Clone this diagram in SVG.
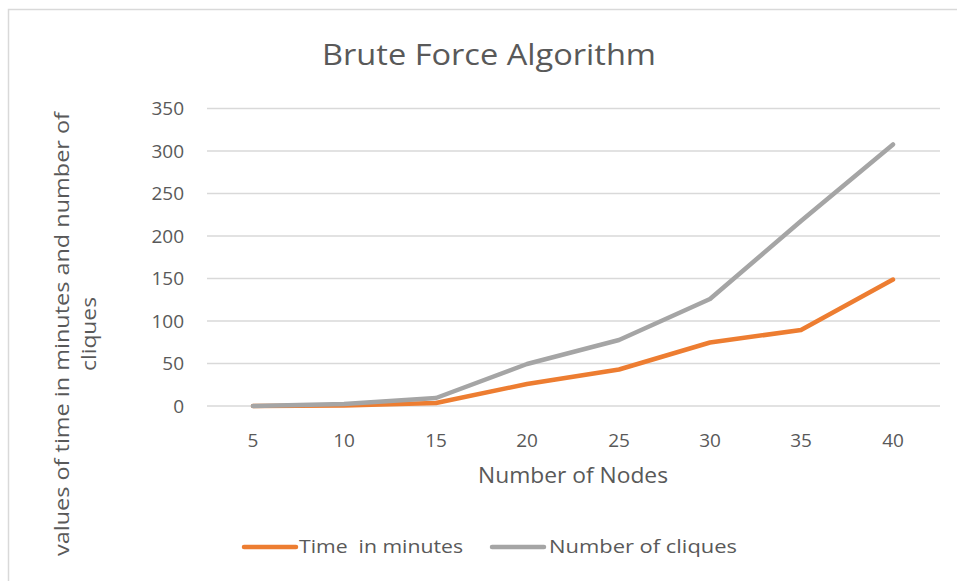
<svg xmlns="http://www.w3.org/2000/svg" width="957" height="581" viewBox="0 0 957 581">
<style>
text{font-family:"Open Sans","Noto Sans","Liberation Sans",sans-serif;fill:#595959}
.tick{font-size:19px}
.grid{stroke:#d9d9d9;stroke-width:1.5}
.s{fill:none;stroke-width:4.5;stroke-linecap:round;stroke-linejoin:round}
</style>
<rect width="957" height="581" fill="#fff"/>
<g id="frame"><path d="M8.5,581 V9.5 H957" fill="none" stroke="#d9d9d9" stroke-width="1.5"/></g>
<g id="title"><text x="489" y="65" font-size="30" text-anchor="middle" textLength="334" lengthAdjust="spacingAndGlyphs">Brute Force Algorithm</text></g>
<g id="grid">
<line class="grid" x1="207" y1="108.5" x2="940" y2="108.5"/>
<line class="grid" x1="207" y1="151" x2="940" y2="151"/>
<line class="grid" x1="207" y1="193.5" x2="940" y2="193.5"/>
<line class="grid" x1="207" y1="236" x2="940" y2="236"/>
<line class="grid" x1="207" y1="278.5" x2="940" y2="278.5"/>
<line class="grid" x1="207" y1="321" x2="940" y2="321"/>
<line class="grid" x1="207" y1="363.5" x2="940" y2="363.5"/>
<line class="grid" x1="207" y1="406" x2="940" y2="406"/>
</g>
<g id="y-ticks" class="tick" text-anchor="end">
<text x="184" y="115">350</text>
<text x="184" y="157.5">300</text>
<text x="184" y="200">250</text>
<text x="184" y="242.5">200</text>
<text x="184" y="285">150</text>
<text x="184" y="327.5">100</text>
<text x="184" y="370">50</text>
<text x="184" y="412.5">0</text>
</g>
<g id="x-ticks" class="tick" text-anchor="middle">
<text x="253" y="447">5</text>
<text x="344" y="447">10</text>
<text x="436" y="447">15</text>
<text x="527" y="447">20</text>
<text x="619" y="447">25</text>
<text x="710" y="447">30</text>
<text x="801" y="447">35</text>
<text x="893" y="447">40</text>
</g>
<g id="x-title"><text x="573" y="483" font-size="21" text-anchor="middle" textLength="190" lengthAdjust="spacingAndGlyphs">Number of Nodes</text></g>
<g id="y-title" font-size="20">
<text transform="translate(69,334) rotate(-90)" text-anchor="middle" textLength="444" lengthAdjust="spacingAndGlyphs">values of time in minutes and number of</text>
<text transform="translate(96,334) rotate(-90)" text-anchor="middle" textLength="74" lengthAdjust="spacingAndGlyphs">cliques</text>
</g>
<g id="connectors">
<polyline id="series-time" class="s" stroke="#ED7D31" points="253,406 344,405.5 436,403 527,384 619,369.5 710,342.5 801,330 893,279.5"/>
<polyline id="series-cliques" class="s" stroke="#A5A5A5" points="253,406 344,404 436,398 527,364 619,340 710,299 801,221 893,144.5"/>
</g>
<g id="legend" font-size="19">
<line x1="244" y1="547" x2="296" y2="547" stroke="#ED7D31" stroke-width="4.5" stroke-linecap="round"/>
<text x="299" y="553" textLength="164" lengthAdjust="spacingAndGlyphs" xml:space="preserve">Time  in minutes</text>
<line x1="492" y1="547" x2="544" y2="547" stroke="#A5A5A5" stroke-width="4.5" stroke-linecap="round"/>
<text x="549" y="553" textLength="188" lengthAdjust="spacingAndGlyphs">Number of cliques</text>
</g>
</svg>
